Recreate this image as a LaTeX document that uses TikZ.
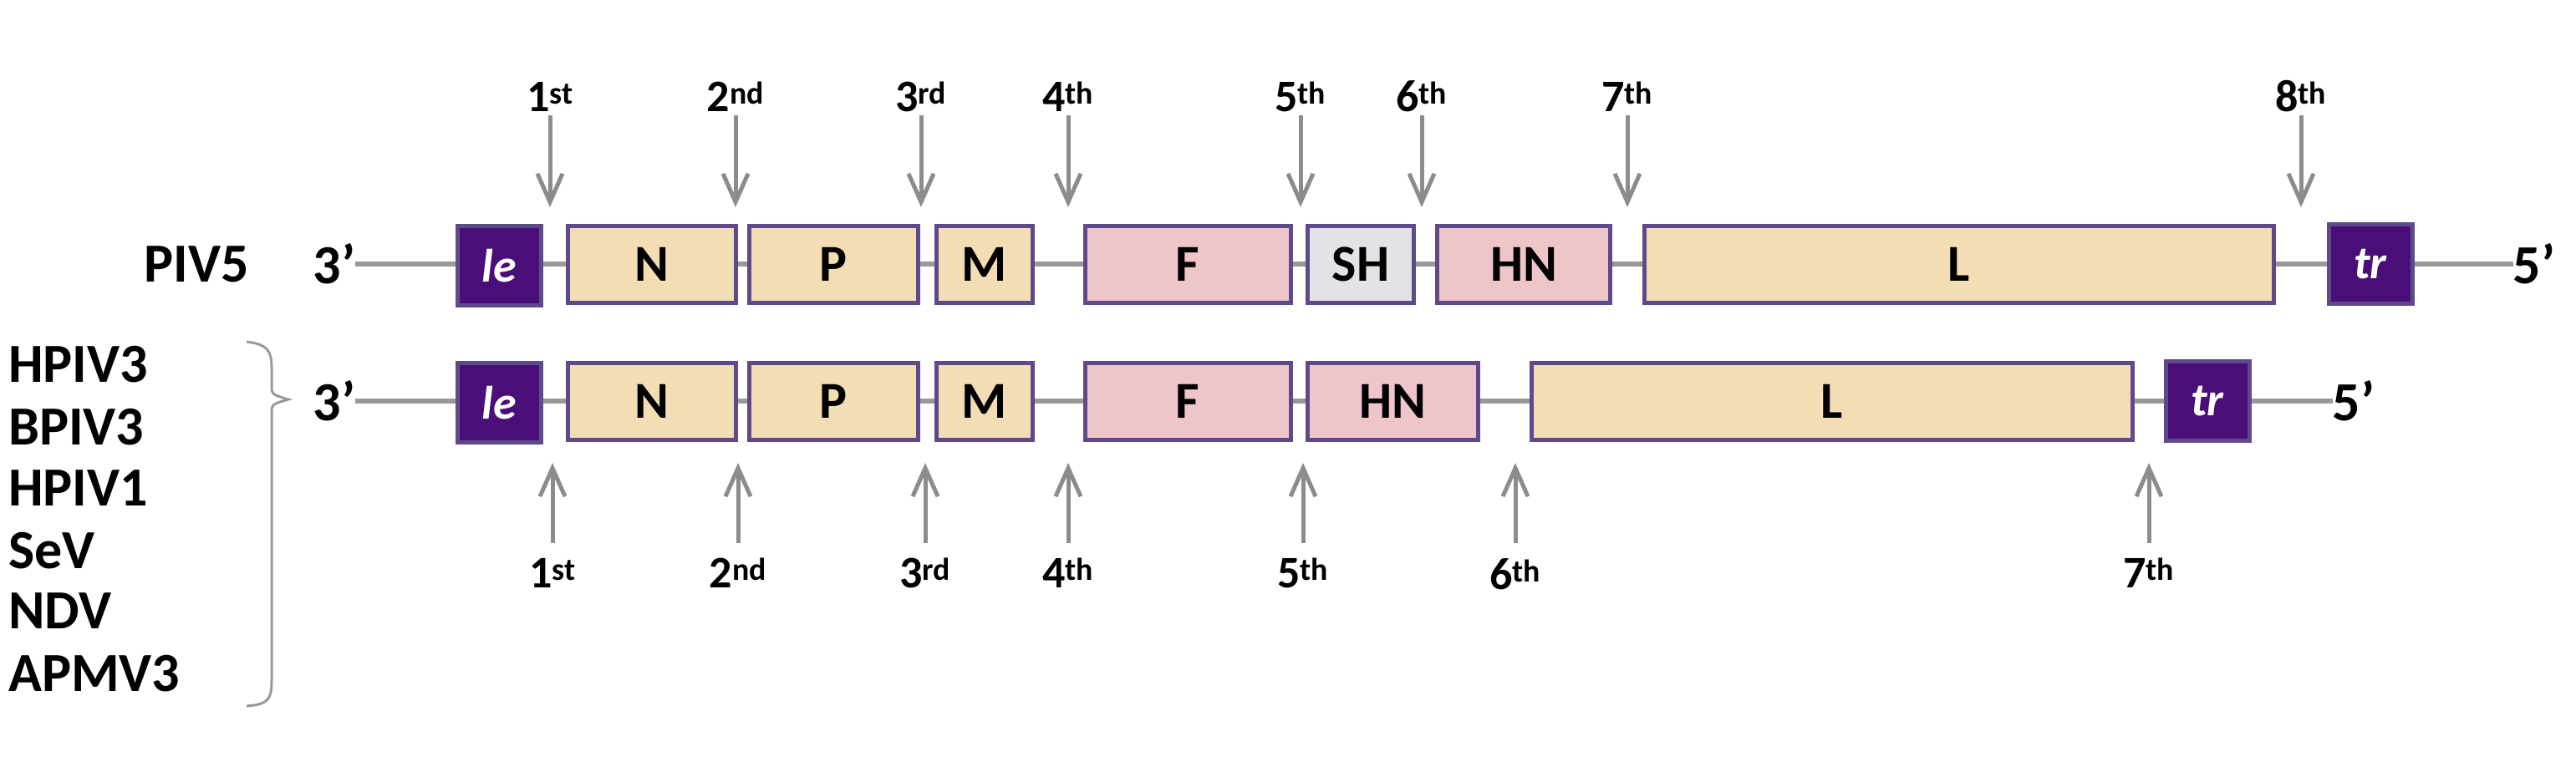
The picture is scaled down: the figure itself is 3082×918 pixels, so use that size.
\documentclass[tikz,border=0pt]{standalone}
\usepackage{fontspec}
\setmainfont{Carlito}
\usetikzlibrary{arrows.meta}
\definecolor{genetan}{HTML}{F3DDB5}
\definecolor{genepink}{HTML}{EEC6C9}
\definecolor{genegray}{HTML}{E1E3E7}
\definecolor{geneedge}{HTML}{5E4A8A}
\definecolor{termfill}{HTML}{4A0E78}
\tikzstyle{gene}=[draw=geneedge,line width=5pt,minimum height=92pt,inner sep=0pt,font=\fontsize{62}{62}\bfseries]
\tikzstyle{tan gene}=[gene,fill=genetan]
\tikzstyle{pink gene}=[gene,fill=genepink]
\tikzstyle{gray gene}=[gene,fill=genegray]
\tikzstyle{term}=[gene,fill=termfill,minimum width=100pt,minimum height=95pt,text=white,font=\fontsize{56}{56}\bfseries\itshape]
\tikzstyle{end}=[inner sep=0pt,font=\fontsize{66}{66}\bfseries]
\tikzstyle{ord}=[inner sep=0pt,font=\fontsize{54}{54}\bfseries]
\tikzstyle{species}=[inner sep=0pt,anchor=west,font=\fontsize{66}{66}\bfseries]
\tikzstyle{backbone}=[draw,line width=6pt,black!40]
\tikzstyle{junction}=[draw,line width=5pt,black!45,-{Straight Barb[length=34pt,width=30pt,line width=5pt]}]
\begin{document}
\begin{tikzpicture}[x=1pt,y=-1pt]
     \useasboundingbox (0,0) rectangle (3082,918);
     % Genome ends and backbones
     \node[end] (th1) at (400,316) {3’};
     \node[end] (fv1) at (3032,316) {5’};
     \node[end] (th2) at (400,480) {3’};
     \node[end] (fv2) at (2816,480) {5’};
     \path[backbone] (th1.east) -- (fv1.west);
     \path[backbone] (th2.east) -- (fv2.west);
     % PIV5 genes
     \foreach \pos/\name/\w/\txt/\sty in {{(780,316)/nA/201/N/tan gene}, {(997,316)/pA/202/P/tan gene},
       {(1178,316)/mA/115/M/tan gene}, {(1421,316)/fA/246/F/pink gene}, {(1628,316)/shA/127/SH/gray gene},
       {(1823,316)/hnA/207/HN/pink gene}, {(2344,316)/lA/753/L/tan gene}}
     \node[\sty,minimum width=\w pt] (\name) at \pos {\txt};
     \node[term] (leA) at (597,318) {le};
     \node[term] (trA) at (2836,316) {tr};
     % HPIV3-like genes
     \foreach \pos/\name/\w/\txt/\sty in {{(780,480)/nB/201/N/tan gene}, {(997,480)/pB/202/P/tan gene},
       {(1178,480)/mB/115/M/tan gene}, {(1421,480)/fB/246/F/pink gene},
       {(1666,480)/hnB/204/HN/pink gene}, {(2192,480)/lB/719/L/tan gene}}
     \node[\sty,minimum width=\w pt] (\name) at \pos {\txt};
     \node[term] (leB) at (597,482) {le};
     \node[term] (trB) at (2641,480) {tr};
     % Labels
     \node[end] (piv) at (235,316) {PIV5};
     \foreach \y/\name/\txt in {436/sA/HPIV3, 511/sB/BPIV3, 584/sC/HPIV1, 659/sD/SeV, 731/sE/NDV, 806/sF/APMV3}
     \node[species] (\name) at (10,\y) {\txt};
     \draw[line width=3pt,black!40] (295,409) .. controls (320,412) and (325,420) .. (325,440)
       -- (325,462) .. controls (325,472) .. (345,478) .. controls (325,484) .. (325,494)
       -- (325,815) .. controls (325,838) and (320,843) .. (295,845);
     % Top junctions
     \foreach \x/\name/\n/\s in {658/a1/1/st, 880/a2/2/nd, 1102/a3/3/rd, 1278/a4/4/th,
       1556/a5/5/th, 1701/a6/6/th, 1947/a7/7/th, 2753/a8/8/th}
     {
       \node[ord,anchor=south] (t\name) at (\x,134) {\n\textsuperscript{\s}};
       \coordinate (h\name) at (\x,248);
       \path[junction,shorten <=4pt] (t\name.south) -- (h\name);
     }
     % Bottom junctions
     \foreach \x/\name/\n/\s in {661/b1/1/st, 883/b2/2/nd, 1107/b3/3/rd, 1278/b4/4/th,
       1559/b5/5/th, 1813/b6/6/th, 2571/b7/7/th}
     {
       \node[ord,anchor=north] (t\name) at (\x,668) {\n\textsuperscript{\s}};
       \coordinate (h\name) at (\x,554);
       \path[junction,shorten <=18pt] (t\name.north) -- (h\name);
     }
\end{tikzpicture}
\end{document}
